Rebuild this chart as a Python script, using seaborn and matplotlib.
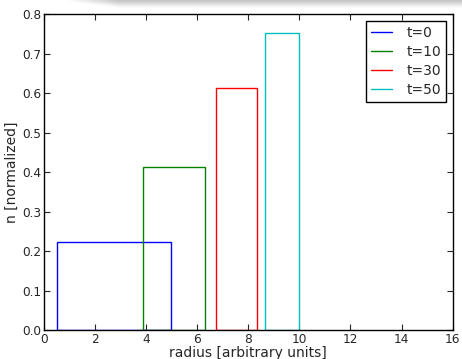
import numpy as np
import pandas as pd
import matplotlib
matplotlib.use("Agg")
import matplotlib.pyplot as plt
import seaborn as sns
from matplotlib.lines import Line2D

# one normalized bin per time step: (left edge, right edge)
labels = ["t=0", "t=10", "t=30", "t=50"]
left_edges = [0.51, 3.90, 6.73, 8.67]
right_edges = [4.99, 6.32, 8.36, 10.0]
colors = ["#0000ff", "#008000", "#ff0000", "#00bfbf"]


def main():
    sns.set_style("ticks")
    plt.rcParams["font.family"] = ["DejaVu Sans"]

    fig = plt.figure(figsize=(4.62, 3.59), dpi=100)

    # grey page shadow along the top edge
    sh = fig.add_axes([0.14, 0.978, 0.86, 0.022])
    row = np.concatenate([np.linspace(1, 0.78, 10), np.full(60, 0.78)])
    vert = np.linspace(0.0, 0.2, 4)[:, None]
    sh.imshow(np.clip(row[None, :] + vert, 0, 1), cmap="gray", vmin=0, vmax=1,
              aspect="auto", interpolation="bilinear")
    sh.axis("off")

    ax = fig.add_axes([0.0946, 0.0808, 0.8853, 0.8794])

    for lab, lo, hi, c in zip(labels, left_edges, right_edges, colors):
        df = pd.DataFrame({"r": [(lo + hi) / 2]})
        sns.histplot(data=df, x="r", bins=[lo, hi], stat="density", element="bars",
                     fill=False, color=c, linewidth=1.0, ax=ax)

    ax.set_xlim(0, 16)
    ax.set_ylim(0, 0.8)
    ax.set_xticks(np.arange(0, 17, 2))
    ax.set_yticks(np.arange(0, 0.81, 0.1))
    ax.set_xticklabels([str(v) for v in range(0, 17, 2)])
    ax.set_yticklabels([f"{v:.1f}" for v in np.arange(0, 0.81, 0.1)])
    ax.tick_params(direction="in", top=True, right=True, length=4, labelsize=8.7, pad=2)
    for s in ax.spines.values():
        s.set_linewidth(1.0)
        s.set_color("black")
    ax.set_xlabel("radius [arbitrary units]", fontsize=10, labelpad=0)
    ax.set_ylabel("n [normalized]", fontsize=10, labelpad=2)

    handles = [Line2D([], [], color=c, lw=1.0) for c in colors]
    leg = ax.legend(handles, labels, loc="upper right", fontsize=10, frameon=True,
                    fancybox=False, framealpha=1, edgecolor="black", borderaxespad=0.45,
                    handlelength=1.5, handletextpad=1.0, labelspacing=0.35, borderpad=0.4)
    leg.get_frame().set_linewidth(1.0)

    fig.savefig("out.png", dpi=100)


if __name__ == "__main__":
    main()
